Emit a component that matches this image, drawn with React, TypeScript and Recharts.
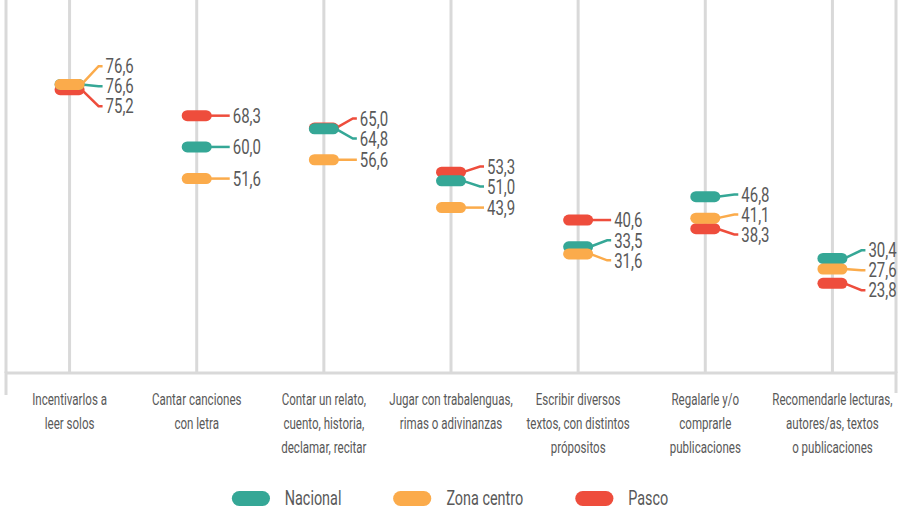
import React from 'react';
import { ComposedChart, Line, XAxis, YAxis, CartesianGrid, Legend } from 'recharts';

// category labels (line breaks as in the source)
const categories = [
  'Incentivarlos a\nleer solos',
  'Cantar canciones\ncon letra',
  'Contar un relato,\ncuento, historia,\ndeclamar, recitar',
  'Jugar con trabalenguas,\nrimas o adivinanzas',
  'Escribir diversos\ntextos, con distintos\nprópositos',
  'Regalarle y/o\ncomprarle\npublicaciones',
  'Recomendarle lecturas,\nautores/as, textos\no publicaciones',
];

const nacional = [76.6, 60.0, 64.8, 51.0, 33.5, 46.8, 30.4];
const zonaCentro = [76.6, 51.6, 56.6, 43.9, 31.6, 41.1, 27.6];
const pasco = [75.2, 68.3, 65.0, 53.3, 40.6, 38.3, 23.8];

const series = [
  { key: 'nacional', name: 'Nacional', color: '#35a796', values: nacional },
  { key: 'zona', name: 'Zona centro', color: '#fbab4b', values: zonaCentro },
  { key: 'pasco', name: 'Pasco', color: '#ee4d3c', values: pasco },
];

// order used for drawing (last one on top)
const drawOrder = ['pasco', 'nacional', 'zona'];
// order for equal values when stacking labels
const tieOrder = ['zona', 'nacional', 'pasco'];

const data = categories.map((name, i) => ({
  name,
  nacional: nacional[i],
  zona: zonaCentro[i],
  pasco: pasco[i],
}));

const W = 900;
const H = 514;
const MARGIN = { top: 0, right: 4, bottom: 0, left: 6 };
const AXIS_H = 141;
const Y_MAX = 99;
const PLOT_H = H - MARGIN.top - MARGIN.bottom - AXIS_H;
const PX = PLOT_H / Y_MAX;
const BAND = (W - MARGIN.left - MARGIN.right) / categories.length;
const LABEL_GAP = 20;

const FONT = "Roboto, 'Noto Sans', sans-serif";
const TEXT = '#595959';
const GRID = '#d9d9d9';
const SQUEEZE = 0.72; // the source font is a condensed face

const fmt = (v: number) => v.toFixed(1).replace('.', ',');

// keep value labels from overlapping: pixel shift per series/category
const labelShift: Record<string, number[]> = {};
series.forEach((s) => (labelShift[s.key] = []));
categories.forEach((_, i) => {
  const items = series
    .map((s) => ({ key: s.key, y: (Y_MAX - s.values[i]) * PX }))
    .sort((a, b) => a.y - b.y || tieOrder.indexOf(a.key) - tieOrder.indexOf(b.key));
  let groups = items.map((it) => ({ members: [it], top: it.y }));
  let changed = true;
  while (changed) {
    changed = false;
    groups.forEach((g) => {
      const mean = g.members.reduce((a, m) => a + m.y, 0) / g.members.length;
      g.top = mean - ((g.members.length - 1) * LABEL_GAP) / 2;
    });
    for (let j = 0; j < groups.length - 1; j++) {
      const a = groups[j];
      const b = groups[j + 1];
      if (a.top + a.members.length * LABEL_GAP > b.top) {
        groups = [...groups.slice(0, j), { members: [...a.members, ...b.members], top: 0 }, ...groups.slice(j + 2)];
        changed = true;
        break;
      }
    }
  }
  groups.forEach((g) =>
    g.members.forEach((m, k) => {
      labelShift[m.key][i] = g.top + k * LABEL_GAP - m.y;
    })
  );
});

const renderDot = (s: typeof series[number]) => (props: any) => {
  const { cx, cy, index } = props;
  const id = `${s.key}-${index}`;
  if (cx == null || cy == null) return <g key={id} />;
  const dy = labelShift[s.key][index] || 0;
  const ly = cy + dy;
  const path = Math.abs(dy) < 1
    ? `M${cx + 12},${cy} H${cx + 33}`
    : `M${cx + 12},${cy} L${cx + 29},${ly} H${cx + 33}`;
  return (
    <g key={id}>
      <path d={path} stroke={s.color} strokeWidth={2.5} fill="none" />
      <rect x={cx - 15} y={cy - 5.5} width={30} height={11} rx={5.5} fill={s.color} />
      <text
        x={0}
        y={0}
        dy="0.36em"
        fontSize={20}
        fontFamily={FONT}
        fill={TEXT}
        transform={`translate(${cx + 36},${ly}) scale(0.75,1)`}
      >
        {fmt(s.values[index])}
      </text>
    </g>
  );
};

const CategoryTick = (props: any) => {
  const { x, y, payload, index } = props;
  const lines = String(payload.value).split('\n');
  return (
    <g>
      {index === 0 && (
        <line x1={x - BAND / 2} x2={x - BAND / 2} y1={y - 1.5} y2={y + 22} stroke={GRID} strokeWidth={3} />
      )}
      {index === categories.length - 1 && (
        <line x1={x + BAND / 2} x2={x + BAND / 2} y1={y - 1.5} y2={y + 20} stroke={GRID} strokeWidth={3} />
      )}
      {lines.map((ln, i) => (
        <text
          key={i}
          x={0}
          y={0}
          textAnchor="middle"
          fontSize={17}
          fontFamily={FONT}
          fill={TEXT}
          transform={`translate(${x},${y + 31.5 + i * 24}) scale(0.68,1)`}
        >
          {ln}
        </text>
      ))}
    </g>
  );
};

// whole legend row is squeezed horizontally; swatch sizes are pre-compensated
const LegendContent = () => (
  <div
    style={{
      display: 'flex',
      justifyContent: 'center',
      alignItems: 'center',
      gap: 52 / SQUEEZE,
      height: 26,
      transform: `scaleX(${SQUEEZE})`,
      transformOrigin: 'center',
    }}
  >
    {series.map((s) => (
      <div key={s.key} style={{ display: 'flex', alignItems: 'center' }}>
        <span
          style={{
            width: 38 / SQUEEZE,
            height: 15,
            borderRadius: `${7.5 / SQUEEZE}px / 7.5px`,
            background: s.color,
            display: 'inline-block',
          }}
        />
        <span style={{ marginLeft: 15 / SQUEEZE, fontFamily: FONT, fontSize: 20, color: TEXT, lineHeight: '26px' }}>
          {s.name}
        </span>
      </div>
    ))}
  </div>
);

export default function App() {
  return (
    <div style={{ width: W, height: H, background: '#fff' }}>
      <style>{'body{margin:0;}'}</style>
      <ComposedChart width={W} height={H} data={data} margin={MARGIN}>
        <CartesianGrid horizontal={false} stroke={GRID} strokeWidth={3} />
        <XAxis
          dataKey="name"
          scale="band"
          height={AXIS_H}
          interval={0}
          tickLine={false}
          tickSize={0}
          tickMargin={0}
          axisLine={{ stroke: GRID, strokeWidth: 3 }}
          tick={<CategoryTick />}
        />
        <YAxis hide type="number" domain={[0, Y_MAX]} allowDataOverflow />
        <Legend
          layout="horizontal"
          verticalAlign="middle"
          align="center"
          wrapperStyle={{ top: 485, left: 0, width: W }}
          content={<LegendContent />}
        />
        {drawOrder.map((k) => {
          const s = series.find((x) => x.key === k)!;
          return (
            <Line
              key={s.key}
              dataKey={s.key}
              name={s.name}
              stroke="none"
              dot={renderDot(s)}
              activeDot={false}
              isAnimationActive={false}
            />
          );
        })}
      </ComposedChart>
    </div>
  );
}
